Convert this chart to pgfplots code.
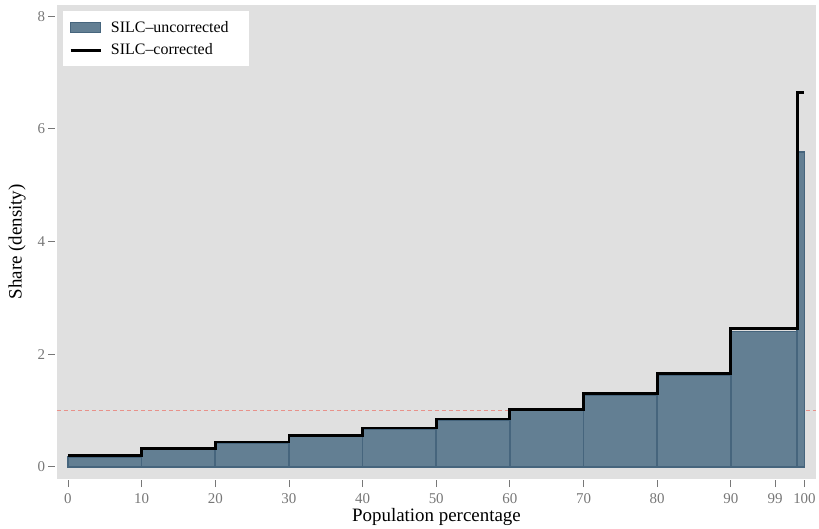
\documentclass[border=0pt]{standalone}
\usepackage{pgfplots}
\pgfplotsset{compat=1.18}
\usepackage{fontspec}
\setmainfont{Liberation Serif}
\definecolor{barfill}{HTML}{637F93}
\definecolor{baredge}{HTML}{46657D}
\definecolor{bgc}{HTML}{E0E0E0}
\definecolor{tickgray}{HTML}{777777}
\definecolor{refred}{HTML}{E8918A}
\begin{document}
\begin{tikzpicture}
\begin{axis}[
  at={(0,0)}, anchor=south west,
  scale only axis, width=759bp, height=473.7bp,
  xmin=-1.49, xmax=101.55, ymin=-0.21, ymax=8.2,
  axis background/.style={fill=bgc},
  axis line style={draw=none},
  xtick={0,10,20,30,40,50,60,70,80,90,96,100},
  xticklabels={0,10,20,30,40,50,60,70,80,90,99,100},
  ytick={0,2,4,6,8},
  tick pos=left, tick align=outside,
  major tick length=7bp,
  xtick style={draw=tickgray, line width=0.8bp, yshift=-1.5bp},
  ytick style={draw=tickgray, line width=0.8bp, xshift=-1.5bp},
  tick label style={font=\fontsize{15}{17}\selectfont, text=tickgray},
  xticklabel style={yshift=-4bp},
  yticklabel style={xshift=-1.5bp},
  /pgf/number format/assume math mode=true,
  xlabel={Population percentage},
  ylabel={Share (density)},
  label style={font=\fontsize{19}{22}\selectfont},
  xlabel style={yshift=2bp},
  ylabel style={yshift=5bp},
  legend style={at={(0.0079,0.987)}, anchor=north west, draw=none, fill=white,
    font=\fontsize{16}{19}\selectfont, inner xsep=6bp, inner ysep=8bp,
    row sep=6bp},
  legend cell align=left,
]
\addplot[refred, dash pattern=on 4bp off 3bp, line width=0.7bp, forget plot]
  coordinates {(-1.49,1) (101.55,1)};
\addplot[ybar interval, fill=barfill, draw=baredge, line width=1.6bp,
  legend image code/.code={\draw[fill=barfill,draw=baredge,line width=0.6bp] (0bp,-5bp) rectangle (30bp,5bp); \path (37bp,0bp);}]
  coordinates {(0,0.17)(10,0.31)(20,0.42)(30,0.54)(40,0.67)(50,0.83)(60,1.00)(70,1.28)(80,1.62)(90,2.40)(99,5.59)(100,5.59)};
\addlegendentry{SILC–uncorrected\hspace*{12bp}}
\addplot[const plot, black, line width=2.8bp,
  legend image code/.code={\draw[black,line width=2.8bp] (0bp,0bp) -- (30bp,0bp); \path (37bp,0bp);}]
  coordinates {(0,0.20)(10,0.33)(20,0.44)(30,0.56)(40,0.69)(50,0.85)(60,1.02)(70,1.30)(80,1.65)(90,2.45)(99,6.64)(100,6.64)};
\addlegendentry{SILC–corrected}
\end{axis}
\path (-57bp,-49.3bp) rectangle (762bp,478.7bp);
\end{tikzpicture}
\end{document}
